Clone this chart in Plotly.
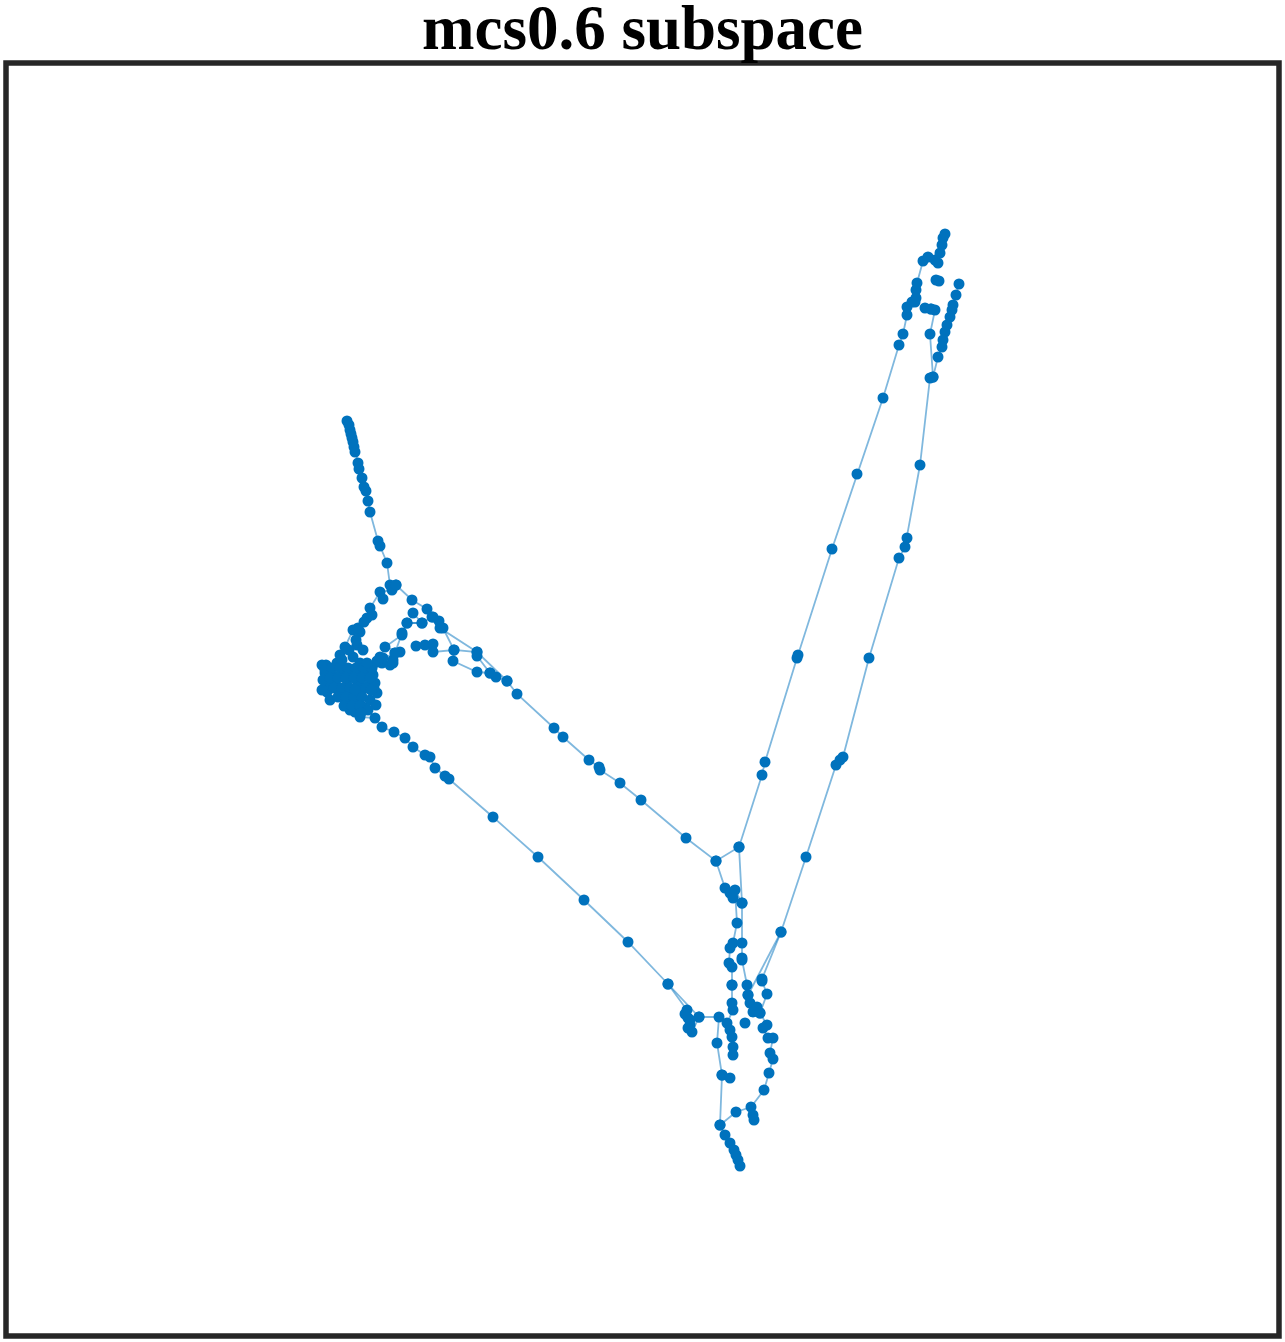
import plotly.graph_objects as go

# Each strand is a connected chain of points (x, y in picture units, y downward)
s1_x = [347,349,350,351,352,353,354,355,358,359,362,364,366,368,370,378,380,387,390,396,392,380,370,367,360,353,345,337,326,325,328,327,337,347,353,360,367,360,350,347,357,363,360,375,382,394,405,413,425,430,435,445,449,493,538,584,628,668,699,719,717,722,720,725,730,734,736,738,740]
s1_y = [421,425,430,434,438,442,447,452,463,469,478,487,491,501,512,541,546,563,585,585,590,592,608,618,632,630,647,663,665,673,683,692,688,680,673,677,687,690,697,702,703,707,717,718,727,732,738,747,755,757,768,776,779,817,857,900,942,984,1017,1017,1043,1075,1125,1135,1143,1150,1155,1160,1166]

s2_x = [375,377,382,390,393,400,385,402,407,422,432,439,443,454,477,477,490,496,507,517,554,563,589,599,600,620,641,686,716,739,762,765,797,798,832,857,883,899,903,907,912,916,917,923,928,935,938,940,942,943,945]
s2_y = [683,662,663,665,660,652,647,635,623,623,617,621,628,650,652,656,673,677,681,694,728,737,760,767,770,783,800,838,861,847,775,762,658,655,549,474,398,345,334,315,302,290,283,261,257,260,263,253,245,238,234]

s3_x = [396,412,427,433,440,477,507]
s3_y = [585,600,609,617,628,652,681]

s4_x = [416,425,433,433,454,453,477,490]
s4_y = [646,645,644,652,650,661,672,673]

s5_x = [413,422,407,402,395,383,377,393]
s5_y = [613,623,623,633,653,658,661,663]

s6_x = [716,725,730,733,742,735,737,733,730,729,732,732,732,733,727,730,732,733,733]
s6_y = [861,888,893,898,903,890,923,943,948,963,967,985,1003,1010,1023,1030,1037,1047,1055]

s7_x = [739,742,742,742,742,747,748,750,757,753,760,767,763,768,773,770,773,769,764,751,736,720]
s7_y = [847,903,943,958,960,985,995,1003,1007,1012,1013,1025,1028,1038,1038,1053,1059,1073,1090,1107,1112,1125]

s8_x = [959,956,953,952,950,947,945,943,942,938,933,930,920,907,905,899,869,843,840,836,806,781,762,762,767,760]
s8_y = [284,295,305,310,317,325,332,340,347,357,377,378,465,538,547,558,658,757,760,765,857,932,979,981,994,1013]

s9_x = [781,748]
s9_y = [932,995]

s10_x = [925,931,935,930,933]
s10_y = [308,309,310,334,377]

s11_x = [668,687,688,690,692,699]
s11_y = [984,1010,1018,1025,1032,1017]

# Loose points (drawn as markers only)
pts_x = [322,325,323,322,330,345,350,355,343,335,365,373,340,357,353,336,348,358,370,377,353,360,380,395,383,
         332,340,348,356,364,372,330,338,346,354,362,370,334,342,350,358,366,374,338,346,354,362,344,352,360,
         349,356,363,342,367,371,376,368,361,355,358,364,372,
         722,730,753,754,732,745,685,690,688,936,939,931,907,916,915]
pts_y = [665,670,680,690,700,700,710,712,673,677,672,675,655,645,657,686,694,684,700,693,700,663,657,653,599,
         668,668,668,668,668,668,678,678,678,678,678,678,688,688,688,688,688,688,697,697,697,697,706,706,706,
         650,640,650,660,663,690,705,710,713,690,628,622,615,
         1075,1078,1115,1120,985,1023,1014,1020,1028,280,281,309,307,298,302]

strands = [(s1_x, s1_y), (s2_x, s2_y), (s3_x, s3_y), (s4_x, s4_y), (s5_x, s5_y),
           (s6_x, s6_y), (s7_x, s7_y), (s8_x, s8_y), (s9_x, s9_y), (s10_x, s10_y), (s11_x, s11_y)]

lx, ly = [], []
mx, my = [], []
for xs, ys in strands:
    lx += list(xs) + [None]
    ly += list(ys) + [None]
    mx += list(xs)
    my += list(ys)
mx += pts_x
my += pts_y

fig = go.Figure()
fig.add_trace(go.Scatter(x=lx, y=ly, mode="lines",
                         line=dict(color="rgba(0,114,189,0.5)", width=1.8),
                         hoverinfo="skip", showlegend=False))
fig.add_trace(go.Scatter(x=mx, y=my, mode="markers",
                         marker=dict(color="#0072BD", size=11, line=dict(width=0)),
                         showlegend=False))

fig.update_layout(
    width=1285, height=1342,
    margin=dict(l=6, r=6, t=63, b=6),
    paper_bgcolor="white", plot_bgcolor="white",
    title=dict(text="<b>mcs0.6 subspace</b>", x=0.5, xanchor="center",
               y=1 - 27 / 1342, yanchor="middle", yref="container",
               font=dict(family="Liberation Serif, Times New Roman, serif", size=63, color="black")),
    xaxis=dict(range=[6, 1279], visible=False, fixedrange=True),
    yaxis=dict(range=[1336, 63], visible=False, fixedrange=True),
    shapes=[dict(type="rect", xref="paper", yref="paper", x0=0, x1=1, y0=0, y1=1,
                 line=dict(color="#262626", width=5.5), fillcolor="rgba(0,0,0,0)", layer="above")],
)

fig.write_html("out.html")
